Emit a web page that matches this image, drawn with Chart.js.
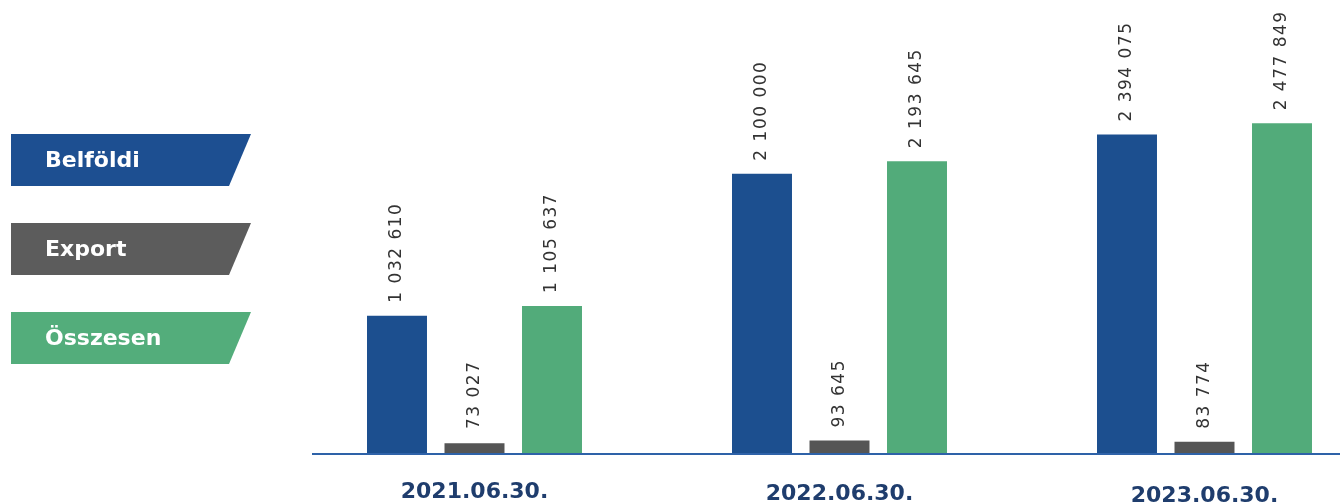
<!DOCTYPE html>
<html>
<head>
<meta charset="utf-8">
<script src="https://cdn.jsdelivr.net/npm/chart.js@4.4.1/dist/chart.umd.min.js"></script>
<style>
  html, body { margin: 0; padding: 0; background: #ffffff; overflow: hidden; }
  #wrap { position: relative; width: 1400px; height: 504px; }
</style>
</head>
<body>
<div id="wrap"><canvas id="c"></canvas></div>
<script>
const categories = ['2021.06.30.', '2022.06.30.', '2023.06.30.'];
const seriesNames = ['Belföldi', 'Export', 'Összesen'];
const belfoldi = [1032610, 2100000, 2394075];
const exportVals = [73027, 93645, 83774];
const osszesen = [1105637, 2193645, 2477849];
const seriesColors = ['#1c4f8f', '#555555', '#52ab7a'];
const legendColors = ['#1d4f91', '#5c5c5c', '#53ad7b'];

function fmt(v) {
  return String(v).replace(/\B(?=(\d{3})+(?!\d))/g, ' ');
}

const valueLabels = {
  id: 'valueLabels',
  afterDatasetsDraw(chart) {
    const ctx = chart.ctx;
    const base = chart.scales.y.getPixelForValue(0);
    ctx.save();
    ctx.fillStyle = '#333333';
    ctx.font = '17px "DejaVu Sans"';
    ctx.letterSpacing = '1.5px';
    ctx.textAlign = 'left';
    ctx.textBaseline = 'middle';
    chart.data.datasets.forEach((ds, di) => {
      const meta = chart.getDatasetMeta(di);
      meta.data.forEach((el, i) => {
        const y = Math.min(el.y - 13, base - 24);
        ctx.save();
        ctx.translate(el.x, y);
        ctx.rotate(-Math.PI / 2);
        ctx.fillText(fmt(ds.data[i]), 0, 0);
        ctx.restore();
      });
    });
    ctx.restore();
  }
};

const axisAndCats = {
  id: 'axisAndCats',
  beforeDatasetsDraw(chart) {
    const ctx = chart.ctx;
    const base = chart.scales.y.getPixelForValue(0);
    ctx.save();
    ctx.strokeStyle = '#2e62a8';
    ctx.lineWidth = 2;
    ctx.beginPath();
    ctx.moveTo(312, base + 1);
    ctx.lineTo(chart.width, base + 1);
    ctx.stroke();
    ctx.restore();
  },
  afterDraw(chart) {
    const ctx = chart.ctx;
    const xs = chart.scales.x;
    const base = chart.scales.y.getPixelForValue(0);
    ctx.save();
    ctx.fillStyle = '#1f3d6d';
    ctx.font = 'bold 22px "DejaVu Sans"';
    ctx.textAlign = 'center';
    ctx.textBaseline = 'middle';
    categories.forEach((c, i) => {
      ctx.fillText(c, xs.getPixelForValue(i), base + 39 + i * 2);
    });
    // legend
    ctx.font = 'bold 22px "DejaVu Sans"';
    ctx.textAlign = 'left';
    seriesNames.forEach((n, i) => {
      const top = 134 + i * 89;
      ctx.fillStyle = legendColors[i];
      ctx.beginPath();
      ctx.moveTo(11, top);
      ctx.lineTo(251, top);
      ctx.lineTo(229, top + 52);
      ctx.lineTo(11, top + 52);
      ctx.closePath();
      ctx.fill();
      ctx.fillStyle = '#ffffff';
      ctx.fillText(n, 45, top + 27);
    });
    ctx.restore();
  }
};

new Chart(document.getElementById('c'), {
  type: 'bar',
  data: {
    labels: categories,
    datasets: [
      { label: seriesNames[0], data: belfoldi, backgroundColor: seriesColors[0] },
      { label: seriesNames[1], data: exportVals, backgroundColor: seriesColors[1] },
      { label: seriesNames[2], data: osszesen, backgroundColor: seriesColors[2] }
    ]
  },
  options: {
    responsive: true,
    maintainAspectRatio: false,
    animation: false,
    datasets: { bar: { categoryPercentage: 0.637, barPercentage: 0.774 } },
    layout: { padding: { left: 292, right: 13, top: 10, bottom: 51 } },
    plugins: { legend: { display: false }, tooltip: { enabled: false } },
    scales: {
      x: { display: false },
      y: { display: false, min: 0, max: 3330000 }
    }
  },
  plugins: [valueLabels, axisAndCats]
});
</script>
</body>
</html>
